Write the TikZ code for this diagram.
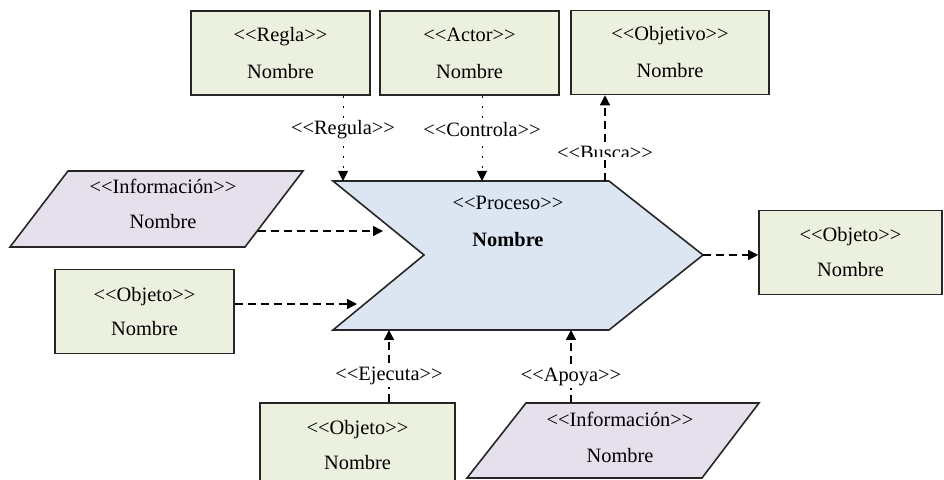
\documentclass[tikz,border=0pt]{standalone}
\usepackage{fontspec}
\setmainfont{Liberation Serif}
\usetikzlibrary{arrows.meta}
\definecolor{boxgreen}{HTML}{EBF1DE}
\definecolor{infopurple}{HTML}{E5E0EC}
\definecolor{procblue}{HTML}{DCE6F2}
\newcommand\stereo[1]{<\kern0pt<#1>\kern0pt>}

\begin{document}
\begin{tikzpicture}[x=0.5pt,y=-0.5pt,
  every node/.style={font=\fontsize{10.2}{12}\selectfont},
  entity/.style={draw=black!85, line width=0.8pt, fill=boxgreen,
    minimum height=42pt, align=center, inner sep=0pt},
  shapeline/.style={draw=black!85, line width=0.8pt},
  tip/.style={-{Triangle[length=5pt,width=5pt]}},
  flow/.style={tip, line width=0.7pt, dash pattern=on 4pt off 2.5pt},
  dotflow/.style={tip, line width=0.5pt, dash pattern=on 1pt off 4pt},
  lbl/.style={fill=white, inner sep=1pt}
]
\useasboundingbox (0,0) rectangle (944,480);
\clip (0,0) rectangle (944,480);

% process chevron
\draw[shapeline, fill=procblue] (333,181) -- (609,181) -- (703,255) -- (609,330)
  -- (333,330) -- (424,255) -- cycle;
\node[align=center] (proc) at (508,221.5) {\stereo{Proceso}\\[6.5pt]\textbf{Nombre}};
\coordinate (pReg) at (343,181);
\coordinate (pCtl) at (482,181);
\coordinate (pBus) at (605,181);
\coordinate (pInf) at (383,231);
\coordinate (pObj) at (357,304);
\coordinate (pOut) at (703,255);
\coordinate (pEje) at (389,330);
\coordinate (pApo) at (571,330);

% entity boxes
\node[entity, minimum width=89.5pt] (regla) at (280.5,53) {\stereo{Regla}\\[6.5pt]Nombre};
\node[entity, minimum width=89.5pt] (actor) at (469.5,53) {\stereo{Actor}\\[6.5pt]Nombre};
\node[entity, minimum width=99pt] (objetivo) at (670,52.5) {\stereo{Objetivo}\\[6.5pt]Nombre};
\node[entity, minimum width=91.5pt] (objR) at (850.5,252.5) {\stereo{Objeto}\\[5.5pt]Nombre};
\node[entity, minimum width=89.5pt] (objL) at (144.5,311.5) {\stereo{Objeto}\\[5pt]Nombre};
\node[entity, minimum width=97.5pt] (objB) at (357.5,445) {\stereo{Objeto}\\[5.5pt]Nombre};

% information parallelograms
\draw[shapeline, fill=infopurple] (68,171) -- (303,171) -- (245,247) -- (10,247) -- cycle;
\node[align=center] (infoL) at (163,203.5) {\stereo{Información}\\[5.5pt]Nombre};
\coordinate (infoLout) at (258,231);

\draw[shapeline, fill=infopurple] (526,403) -- (759,403) -- (702,478) -- (467,478) -- cycle;
\node[align=center] (infoB) at (620,437) {\stereo{Información}\\[6pt]Nombre};
\coordinate (infoBtop) at (571,403);

% connectors
\draw[dotflow] (regla.south -| pReg) -- node[lbl, pos=0.4] {\stereo{Regula}} (pReg);
\draw[dotflow] (actor.south -| pCtl) -- node[lbl, pos=0.4] {\stereo{Controla}} (pCtl);
\draw[flow] (pBus) -- (objetivo.south -| pBus);
\begin{scope}
  \clip (540,140) rectangle (680,157);
  \node[lbl] (busca) at (605,153) {\stereo{Busca}};
\end{scope}
\draw[flow] (infoLout) -- (pInf);
\draw[flow] (objL.east |- pObj) -- (pObj);
\draw[flow] (pOut) -- (objR.west |- pOut);
\draw[flow] (objB.north -| pEje) -- node[lbl, pos=0.36] {\stereo{Ejecuta}} (pEje);
\draw[flow] (infoBtop) -- node[lbl, pos=0.36] {\stereo{Apoya}} (pApo);
\end{tikzpicture}
\end{document}
